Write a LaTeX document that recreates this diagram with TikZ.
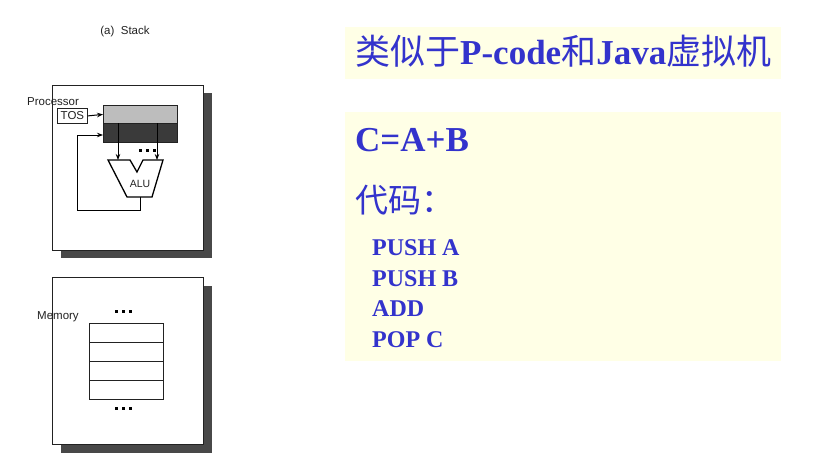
\documentclass[tikz,border=0pt]{standalone}
\usepackage{fontspec}
\setmainfont{Liberation Serif}
\newfontfamily\cjk{Noto Sans CJK SC}
\newfontfamily\arial{Liberation Sans}
\usetikzlibrary{arrows.meta}
\definecolor{txtblue}{HTML}{3333CC}
\definecolor{panel}{HTML}{FFFFE6}
\definecolor{shadowc}{HTML}{484848}
\definecolor{regdark}{HTML}{3A3A3A}
\definecolor{reglight}{HTML}{BDBDBD}
\definecolor{ink}{HTML}{222222}
\begin{document}
\begin{tikzpicture}[x=1pt,y=-1pt,
  lbl/.style={font=\arial\fontsize{11.5}{13}\selectfont, text=ink, inner sep=0pt},
  frame/.style={draw=ink, line width=0.9pt, fill=white, anchor=north west, inner sep=0pt},
  shadowbox/.style={fill=shadowc, draw=none, anchor=north west, inner sep=0pt},
  arr/.style={draw=black, line width=1pt, -{Stealth[length=6pt,width=4.5pt]}},
  dotc/.style={fill=black, draw=none, rectangle, minimum size=3pt, inner sep=0pt},
  cell/.style={draw=ink, line width=0.8pt, fill=white, minimum width=74pt, minimum height=19pt, anchor=north west, inner sep=0pt},
  big/.style={font=\fontsize{35}{40}\selectfont\bfseries, text=txtblue, inner sep=0pt, anchor=base west},
  code/.style={font=\fontsize{24}{28}\selectfont\bfseries, text=txtblue, inner sep=0pt, anchor=base west}
]
\useasboundingbox (0,0) rectangle (830,466);
\fill[white] (0,0) rectangle (830,466);

% ---------- left: stack machine ----------
\node[lbl, anchor=base] (title) at (125,34) {(a)\ \ Stack};

% Processor
\node[shadowbox, minimum width=151pt, minimum height=165pt] (procsh) at (61,93) {};
\node[frame, minimum width=151pt, minimum height=165pt] (proc) at (52,85) {};
\node[lbl, anchor=base west] (proclbl) at (27,105) {Processor};

\node[draw=ink, line width=0.8pt, fill=white, minimum width=30pt, minimum height=15pt, anchor=north west, inner sep=0pt,
      font=\arial\fontsize{11.5}{13}\selectfont, text=ink] (tos) at (57,108) {TOS};

\node[draw=ink, line width=0.8pt, fill=reglight, minimum width=74pt, minimum height=18pt, anchor=north west, inner sep=0pt] (regtop) at (103,105) {};
\node[draw=ink, line width=0.8pt, fill=regdark, minimum width=74pt, minimum height=19pt, anchor=north west, inner sep=0pt] (regbot) at (103,123) {};

\draw[arr] (tos.east) -- (regtop.west);

% ALU
\coordinate (alutl) at (108,160);
\coordinate (alutr) at (163,160);
\coordinate (alubr) at (152,197);
\coordinate (alubl) at (127,197);
\draw[draw=black, line width=1.3pt, fill=white, line join=miter]
  (alutl) -- (130,160) -- (137,172) -- (143,160) -- (alutr) -- (alubr) -- (alubl) -- cycle;
\node[font=\arial\fontsize{10.5}{12}\selectfont, text=ink, inner sep=0pt] (alu) at (140,184) {ALU};

\coordinate (ina) at (118,160);
\coordinate (inb) at (157,160);
\draw[arr] (118,123) -- (ina);
\draw[arr] (157,123) -- (inb);

\node[dotc] (pd1) at (140.5,150) {};
\node[dotc] (pd2) at (147.5,150) {};
\node[dotc] (pd3) at (154.5,150) {};

\coordinate (aluout) at (140,197);
\coordinate (fbin) at (103,135);
\draw[arr] (aluout) -- (140,210) -| (77,135) -- (fbin);

% Memory
\node[shadowbox, minimum width=151pt, minimum height=167pt] (memsh) at (61,286) {};
\node[frame, minimum width=151pt, minimum height=167pt] (mem) at (52,277) {};
\node[lbl, anchor=base west] (memlbl) at (37,319) {Memory};

\node[dotc] (md1) at (116.5,311) {};
\node[dotc] (md2) at (123.5,311) {};
\node[dotc] (md3) at (130.5,311) {};

\node[cell] (c1) at (89,323) {};
\node[cell] (c2) at (89,342) {};
\node[cell] (c3) at (89,361) {};
\node[cell] (c4) at (89,380) {};

\node[dotc] (md4) at (116.5,408) {};
\node[dotc] (md5) at (123.5,408) {};
\node[dotc] (md6) at (130.5,408) {};

% ---------- right: text panels ----------
\node[fill=panel, minimum width=436pt, minimum height=52pt, anchor=north west, inner sep=0pt] (head) at (345,27) {};
\node[big] (headtxt) at (355,64)
  {{\cjk\mdseries 类似于}P-code{\cjk\mdseries 和}Java{\cjk\mdseries 虚拟机}};

\node[fill=panel, minimum width=436pt, minimum height=249pt, anchor=north west, inner sep=0pt] (body) at (345,112) {};
\node[big] (eq) at (355,151) {C=A+B};
\node[big, font=\fontsize{33}{40}\selectfont\cjk] (codelbl) at (355,212) {代码：};
\node[code] (l1) at (372,255) {PUSH A};
\node[code] (l2) at (372,286) {PUSH B};
\node[code] (l3) at (372,316) {ADD};
\node[code] (l4) at (372,347) {POP C};
\end{tikzpicture}
\end{document}
